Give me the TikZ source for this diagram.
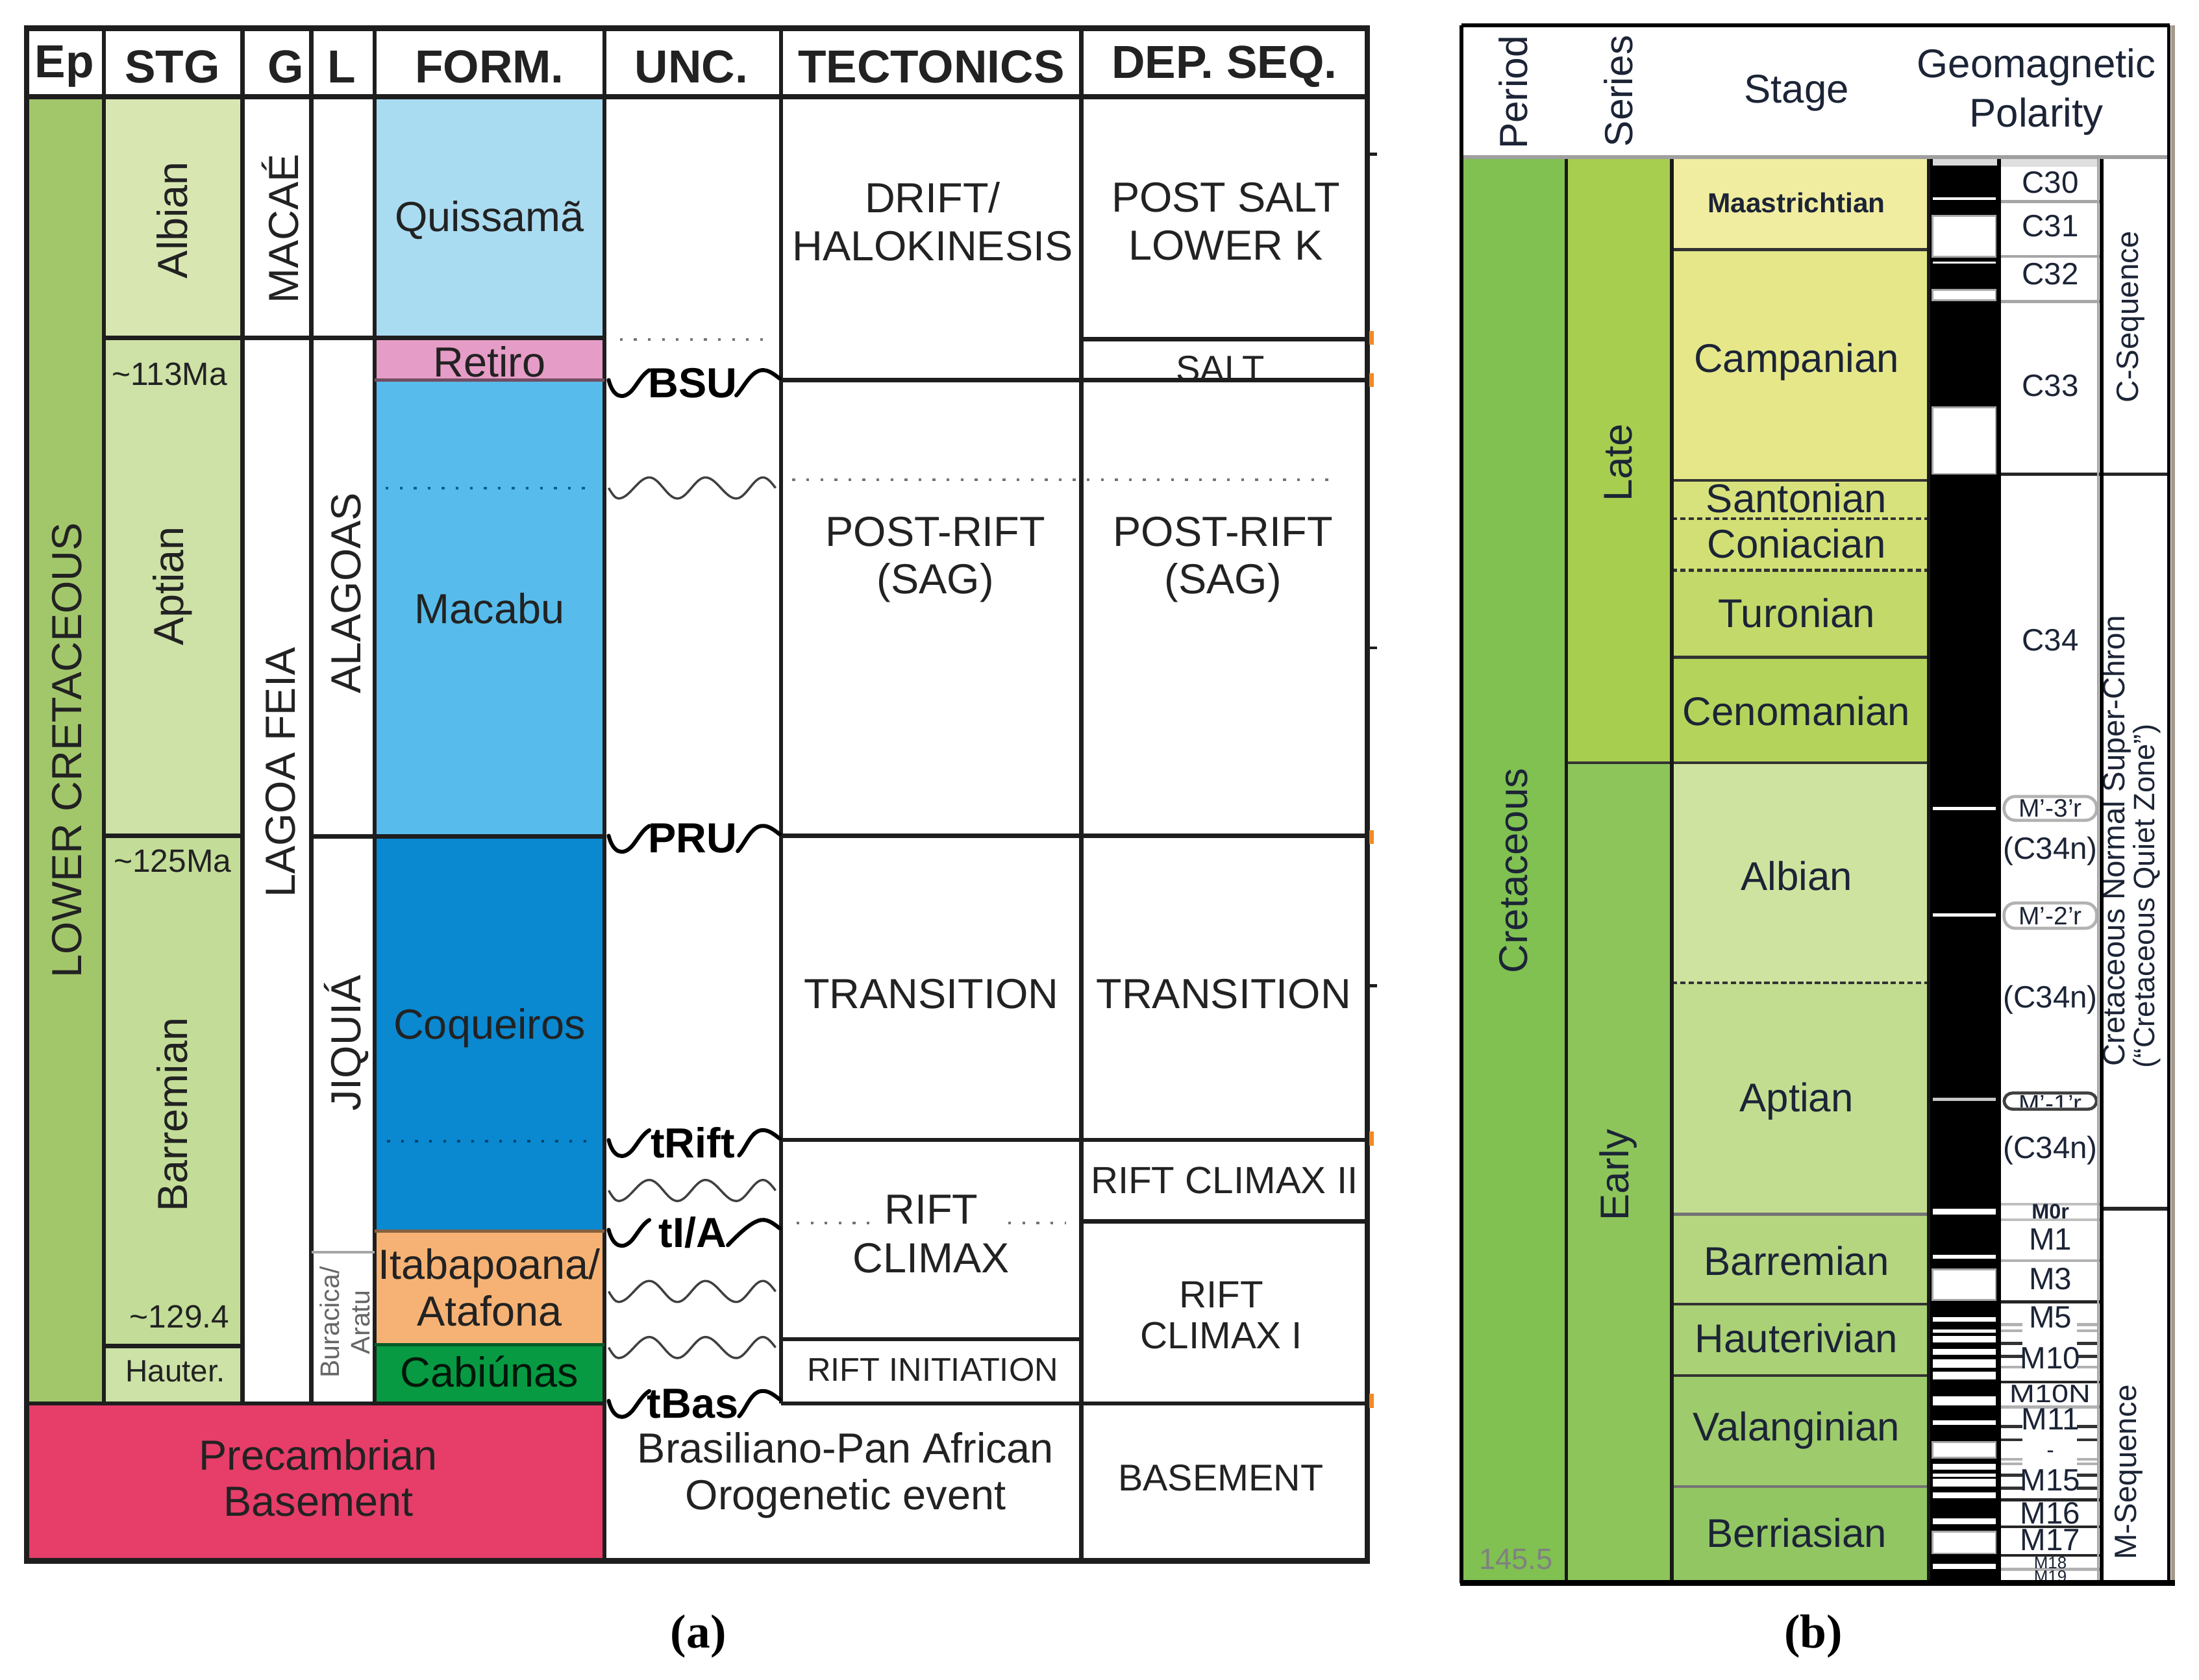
\documentclass[tikz,border=0pt]{standalone}
\usepackage{fontspec}
\setmainfont{Liberation Sans}
\newfontfamily\serifbf{Liberation Serif}
\newcommand\fsz[2]{\fontsize{#1}{#2}\selectfont}
\definecolor{lnA}{HTML}{1E1E1E}
\definecolor{txtA}{HTML}{222222}
\definecolor{txtB}{HTML}{1C2436}
\definecolor{cEp}{HTML}{A2C76B}
\definecolor{cAlb}{HTML}{D8E6B1}
\definecolor{cApt}{HTML}{CEE1A6}
\definecolor{cBar}{HTML}{C3DD98}
\definecolor{cHau}{HTML}{CCE2A6}
\definecolor{cQuis}{HTML}{A9DBF1}
\definecolor{cRet}{HTML}{E59CC6}
\definecolor{cMac}{HTML}{57BCEB}
\definecolor{cCoq}{HTML}{0A88D0}
\definecolor{cIta}{HTML}{F6B274}
\definecolor{cCab}{HTML}{079A42}
\definecolor{cPre}{HTML}{E73D69}
\definecolor{bCret}{HTML}{80C152}
\definecolor{bLate}{HTML}{A7CE4F}
\definecolor{bEarly}{HTML}{8DC55B}
\definecolor{bMaas}{HTML}{F1EDA0}
\definecolor{bCamp}{HTML}{E5E789}
\definecolor{bSant}{HTML}{D8E27C}
\definecolor{bConi}{HTML}{D2DF74}
\definecolor{bTur}{HTML}{C3D96A}
\definecolor{bCen}{HTML}{B4D35B}
\definecolor{bAlb}{HTML}{CFE3A0}
\definecolor{bApt}{HTML}{C2DD90}
\definecolor{bBar}{HTML}{B5D67F}
\definecolor{bHau}{HTML}{AAD175}
\definecolor{bVal}{HTML}{9ECB6B}
\definecolor{bBer}{HTML}{92C663}
\definecolor{bRim}{HTML}{A39A8A}
\definecolor{tickOr}{HTML}{F08A24}
\newcommand\uncmark[4]{%
  \draw[sq] (434,{#2}) .. controls (437,{#2+12}) and (444,{#2+15}) .. (451,{#2+7}) .. controls (455,{#2+2}) and (458,{#2-4}) .. (463,{#2-7});
  \draw[sq] (#4,{#2+11}) .. controls ({#4+5},{#2+6}) and (535,{#2-6}) .. (543,{#2-7}) .. controls (548,{#2-7.5}) and (552,{#2-4}) .. (556,{#2-1});
  \node[ucl] (#1) at (494,{#2+2}) {#3};}
\newcommand\thinwave[1]{%
  \draw[tw] (434,{#1}) sin (441,{#1+7.5}) cos (452,{#1}) sin (463,{#1-7.5}) cos (473,{#1}) sin (483,{#1+7.5}) cos (493,{#1}) sin (503,{#1-7.5}) cos (514,{#1}) sin (525,{#1+7.5}) cos (534.5,{#1}) sin (544,{#1-7.5}) cos (553,{#1});}
\begin{document}
\begin{tikzpicture}[x=0.5pt,y=-0.5pt,
  ln/.style={line width=1.5pt, draw=lnA},
  lnt/.style={line width=1pt, draw=lnA},
  sq/.style={line width=1.4pt, draw=black, line cap=round},
  tw/.style={line width=0.8pt, draw=black!75},
  dots/.style={line width=0.9pt, draw=black!55, dash pattern=on 1pt off 4pt},
  hdr/.style={font=\bfseries\fsz{16.5}{18}, inner sep=0pt, text=txtA},
  bt/.style={font=\fsz{15}{17}, align=center, inner sep=0pt, text=txtA},
  sm/.style={font=\fsz{11.5}{13}, inner sep=0pt, text=txtA},
  ucl/.style={font=\bfseries\fsz{15}{16}, inner sep=0pt, text=black},
  bs/.style={font=\fsz{14.3}{16.5}, align=center, inner sep=0pt, text=txtB},
  ch/.style={font=\fsz{11}{12}, inner sep=0pt, text=txtB},
  chs/.style={font=\fsz{9}{10}, inner sep=0pt, text=txtB},
  stl/.style={line width=1pt, draw=black!80},
  lab/.style={font=\serifbf\bfseries\fsz{17}{19}, inner sep=0pt}]
\useasboundingbox (0,0) rectangle (1568,1198);
\fill[white] (0,0) rectangle (1568,1198);

% ================= PANEL (a) =================
\fill[cEp] (19,69) rectangle (74,1001);
\fill[cAlb] (74,69) rectangle (173,241);
\fill[cApt] (74,241) rectangle (173,596);
\fill[cBar] (74,596) rectangle (173,960);
\fill[cHau] (74,960) rectangle (173,1001);
\fill[cQuis] (267,69) rectangle (431,242);
\fill[cRet] (267,242) rectangle (431,271);
\fill[cMac] (267,271) rectangle (431,596);
\fill[cCoq] (267,596) rectangle (431,878);
\fill[cIta] (267,878) rectangle (431,959);
\fill[cCab] (267,959) rectangle (431,1001);
\fill[cPre] (19,1001) rectangle (431,1113);

\draw[ln] (74,20) -- (74,1001);
\draw[ln] (173,20) -- (173,1001);
\draw[ln] (222,20) -- (222,1001);
\draw[ln] (267,20) -- (267,1001);
\draw[ln] (431,20) -- (431,1113);
\draw[ln] (557,20) -- (557,1001);
\draw[ln] (771,20) -- (771,1113);

\draw[ln] (74,241) -- (431,241);
\draw[ln] (74,596) -- (173,596);
\draw[ln] (222,596.5) -- (431,596.5);
\draw[ln] (74,960) -- (173,960);
\draw[lnt, draw=cCab!60!black] (267,959) -- (431,959);
\draw[line width=1.2pt, draw=cRet!50!black] (267,271) -- (431,271);
\draw[lnt, draw=cIta!55!black] (267,878) -- (431,878);
\draw[line width=1pt, draw=black!35] (222,893) -- (267,893);
\draw[ln] (19,1001) -- (431,1001);
\draw[ln] (557,271) -- (975,271);
\draw[ln] (771,242) -- (975,242);
\draw[ln] (557,596) -- (975,596);
\draw[ln] (557,813) -- (975,813);
\draw[ln] (557,955) -- (771,955);
\draw[ln] (771,871) -- (975,871);
\draw[ln] (557,1001) -- (975,1001);

\draw[line width=2pt, draw=lnA] (19,20) rectangle (975,1113);
\draw[line width=2pt, draw=lnA] (19,69) -- (975,69);

\draw[dots, draw=cCoq!70!black] (275,348) -- (420,348);
\draw[dots, draw=cCoq!50!black] (276,814) -- (419,814);
\draw[dots] (442,242) -- (546,242);
\draw[dots] (565,342) -- (952,342);
\draw[dots] (568,872) -- (623,872);
\draw[dots] (719,872) -- (760,872);

\thinwave{348}
\thinwave{849}
\thinwave{921}
\thinwave{961}
\uncmark{uBSU}{271}{BSU}{525}
\uncmark{uPRU}{596}{PRU}{526}
\uncmark{uRift}{813}{tRift}{527}
\uncmark{uIA}{877}{tI/A}{519}
\uncmark{uBas}{999}{tBas}{527}

\foreach \yy in {110,462,703} \draw[line width=1pt, draw=lnA] (976,\yy) -- (982,\yy);
\foreach \yy in {241,271,597,812,999} \fill[tickOr] (976.5,{\yy-5}) rectangle (979.5,{\yy+5});

\node[hdr] (hEp) at (46,47.5) {Ep};
\node[hdr] (hSTG) at (123,47.5) {STG};
\node[hdr] (hG) at (204,47.5) {G};
\node[hdr] (hL) at (243.5,47.5) {L};
\node[hdr] (hFORM) at (349,47.5) {FORM.};
\node[hdr] (hUNC) at (493,47.5) {UNC.};
\node[hdr] (hTEC) at (664,47.5) {TECTONICS};
\node[hdr] (hDEP) at (873,47.5) {DEP. SEQ.};

\node[bt, rotate=90] (tLC) at (48,535) {LOWER CRETACEOUS};
\node[bt, rotate=90] (tAlb) at (123,157) {Albian};
\node[bt, rotate=90] (tApt) at (123,418) {Aptian};
\node[bt, rotate=90] (tBar) at (123,795) {Barremian};
\node[sm] (t113) at (121,267) {\textasciitilde113Ma};
\node[sm] (t125) at (123,614) {\textasciitilde125Ma};
\node[sm] (t129) at (128,939) {\textasciitilde129.4};
\node[sm, font=\fsz{11}{12}] (tHau) at (125,978) {Hauter.};

\node[bt, rotate=90] (tMac) at (200,163) {MACAÉ};
\node[bt, rotate=90] (tLF) at (200,551) {LAGOA FEIA};
\node[bt, rotate=90] (tAla) at (247,423) {ALAGOAS};
\node[bt, rotate=90] (tJiq) at (247,744) {JIQUIÁ};
\node[bt, rotate=90, font=\fsz{9.5}{11}, text=black!60] (tBur) at (246,943) {Buracica/\\Aratu};

\node[bt] (fQ) at (349,157) {Quissamã};
\node[bt] (fR) at (349,258) {Retiro};
\node[bt] (fM) at (349,434) {Macabu};
\node[bt] (fC) at (349,733) {Coqueiros};
\node[bt, font=\fsz{15}{16.7}] (fI) at (349,918) {Itabapoana/\\Atafona};
\node[bt, text=black!85!cCab] (fCab) at (349,978) {Cabiúnas};
\node[bt, font=\fsz{15}{16.5}] (fP) at (227,1054) {Precambrian\\Basement};

\node[bt] (kD) at (665,158) {DRIFT/\\HALOKINESIS};
\node[bt] (kP) at (667,399) {POST-RIFT\\(SAG)};
\node[bt] (kT) at (664,709) {TRANSITION};
\node[bt, font=\fsz{15}{17.5}] (kR) at (664,880) {RIFT\\CLIMAX};
\node[bt, font=\fsz{11.7}{13}] (kI) at (665,977) {RIFT INITIATION};
\node[bt, font=\fsz{15}{16.7}] (kB) at (603,1052) {Brasiliano-Pan African\\Orogenetic event};

\node[bt] (dPS) at (874,158) {POST SALT\\LOWER K};
\begin{scope}
\clip (772,243) rectangle (974,270);
\node[bt, font=\fsz{13}{14}] (dS) at (870,263) {SALT};
\end{scope}
\node[bt] (dPR) at (872,399) {POST-RIFT\\(SAG)};
\node[bt] (dT) at (872.5,709) {TRANSITION};
\node[bt, font=\fsz{13.5}{15}] (dR2) at (873,842) {RIFT CLIMAX II};
\node[bt, font=\fsz{13.5}{14.5}] (dR1) at (871,938) {RIFT\\CLIMAX I};
\node[bt, font=\fsz{13.3}{15}] (dB) at (870.5,1054) {BASEMENT};

\node[lab] (labA) at (498,1167) {(a)};

% ================= PANEL (b) =================
\fill[bCret] (1042,112) rectangle (1117,1128);
\fill[bLate] (1117,112) rectangle (1192,544);
\fill[bEarly] (1117,544) rectangle (1192,1128);
\fill[bMaas] (1192,112) rectangle (1375,178);
\fill[bCamp] (1192,178) rectangle (1375,342.5);
\fill[bSant] (1192,342.5) rectangle (1375,370);
\fill[bConi] (1192,370) rectangle (1375,406.7);
\fill[bTur] (1192,406.7) rectangle (1375,468.7);
\fill[bCen] (1192,468.7) rectangle (1375,544);
\fill[bAlb] (1192,544) rectangle (1375,701);
\fill[bApt] (1192,701) rectangle (1375,866);
\fill[bBar] (1192,866) rectangle (1375,930);
\fill[bHau] (1192,930) rectangle (1375,981);
\fill[bVal] (1192,981) rectangle (1375,1060);
\fill[bBer] (1192,1060) rectangle (1375,1128);

\fill[black] (1375,112) rectangle (1427,1128);
\fill[gray!30] (1378,112.7) rectangle (1424,117.9);
\foreach \a/\b in {140.6/142.6,186.5/188,575.3/577.7,651.5/653.5,862/866,895/897.5,939.4/942.5,948.3/950.3,952.8/957.4,962/966,969.4/975.6,978/983.8,996/1002.4,1012.8/1016.3,1043.8/1048,1051/1053,1054.5/1060.3,1064.4/1068.6,1083/1087,1115/1119}
  \fill[white] (1378,\a) rectangle (1423,\b);
\fill[gray!45] (1378,783) rectangle (1423,785);
\foreach \a/\b in {154/183,206.8/214,290.5/338,905.3/927,1028.3/1039.6,1092.4/1107.8}
  \filldraw[fill=white, draw=gray!70, line width=0.6pt] (1378,\a) rectangle (1423,\b);

\fill[gray!25] (1427,112.7) rectangle (1496,119);
\foreach \yy/\cc in {143.7/gray!70,183/gray!70,215/gray!70,858.8/gray!50,870/gray!50,899/gray!60,928.4/black!85,985.5/black!85,1003.5/gray!60,1069.6/black!85,1088.8/black!85,1109.3/black!85,1119.2/gray!60}
  \draw[line width=1pt, draw=\cc] (1427,\yy) -- (1497,\yy);
\foreach \yy/\cc in {944.6/gray!60,949/gray!60,958/black!80,967.3/black!80,975/gray!60,1017.3/black!80,1026.8/black!80,1040.7/gray!60,1044/gray!60,1052/black!80,1061.3/black!80}
  {\draw[line width=1pt, draw=\cc] (1427,\yy) -- (1442,\yy);
   \draw[line width=1pt, draw=\cc] (1481,\yy) -- (1496,\yy);}
\draw[rounded corners=4pt, line width=1.1pt, draw=gray!60] (1429,568) rectangle (1495,585);
\draw[rounded corners=4pt, line width=1.1pt, draw=gray!60] (1429,644) rectangle (1495,662);
\draw[rounded corners=3pt, line width=1.1pt, draw=black!75] (1429,779.5) rectangle (1495,791);

\node[ch] (c30) at (1462,130) {C30};
\node[ch] (c31) at (1462,161) {C31};
\node[ch] (c32) at (1462,195.5) {C32};
\node[ch] (c33) at (1462,275) {C33};
\node[ch] (c34) at (1462,456.5) {C34};
\node[chs] (m3r) at (1462,576.5) {M'-3'r};
\node[ch] (c34a) at (1462,607) {(C34n)};
\node[chs] (m2r) at (1462,653) {M'-2'r};
\node[ch] (c34b) at (1462,713) {(C34n)};
\begin{scope}
\clip (1430,781) rectangle (1494,789.5);
\node[chs] (m1r) at (1462,787) {M'-1'r};
\end{scope}
\node[ch] (c34c) at (1462,820.5) {(C34n)};
\node[chs, font=\bfseries\fsz{7.5}{8}] (m0r) at (1462,864) {M0r};
\node[ch] (mm1) at (1462,884) {M1};
\node[ch] (mm3) at (1462,912) {M3};
\node[ch] (mm5) at (1462,939.5) {M5};
\node[ch] (mm10) at (1462,968.5) {M10};
\node[ch, font=\fsz{9}{10}, xscale=1.2] (mm10n) at (1462,994) {M10N};
\node[ch] (mm11) at (1462,1012) {M11};
\node[ch, font=\fsz{8}{9}] (mdash) at (1462,1037) {-};
\node[ch] (mm15) at (1462,1055.5) {M15};
\node[ch] (mm16) at (1462,1079) {M16};
\node[ch] (mm17) at (1462,1098) {M17};
\begin{scope}
\clip (1428,1110) rectangle (1496,1127);
\node[chs, font=\fsz{6}{7}] (mm18) at (1462,1114.5) {M18};
\node[chs, font=\fsz{6}{7}] (mm19) at (1462,1124.5) {M19};
\end{scope}

\draw[line width=1.2pt, draw=black!85] (1427,338) -- (1547,338);
\draw[line width=1.2pt, draw=black!85] (1498,862) -- (1547,862);
\node[ch, rotate=90] (sC) at (1519.5,226) {C-Sequence};
\node[ch, rotate=90, anchor=west] (sN1) at (1509.5,761) {Cretaceous Normal Super-Chron};
\node[ch, rotate=90, anchor=west, font=\fsz{10.5}{12}] (sN2) at (1531,762) {(“Cretaceous Quiet Zone”)};
\node[ch, rotate=90] (sM) at (1518,1050) {M-Sequence};

\draw[stl] (1192,178) -- (1375,178);
\draw[stl] (1192,342.5) -- (1375,342.5);
\draw[stl, dash pattern=on 2pt off 1pt] (1192,370) -- (1375,370);
\draw[stl, dash pattern=on 2pt off 1pt] (1192,406.7) -- (1375,406.7);
\draw[stl] (1192,468.7) -- (1375,468.7);
\draw[stl] (1117,544) -- (1375,544);
\draw[stl, dash pattern=on 2pt off 1pt] (1192,701) -- (1375,701);
\draw[stl, draw=black!55] (1192,866) -- (1375,866);
\draw[stl] (1192,930) -- (1375,930);
\draw[stl] (1192,981) -- (1375,981);
\draw[stl, draw=black!55] (1192,1060) -- (1375,1060);

\draw[line width=1.2pt, draw=black!90] (1117,112) -- (1117,1129);
\draw[line width=1.5pt, draw=black!90] (1192,112) -- (1192,1129);
\draw[line width=1.2pt, draw=black!90] (1375,112) -- (1375,1129);
\draw[line width=0.8pt, draw=gray!70] (1496,112) -- (1496,1129);
\draw[line width=1.4pt, draw=black] (1498.5,112) -- (1498.5,1129);
\draw[line width=1.2pt, draw=gray!75] (1042,112) -- (1547,112);
\draw[line width=1.3pt, draw=black] (1042,18) -- (1547,18);
\draw[line width=1.3pt, draw=black] (1042,18) -- (1042,1129);
\draw[line width=1.3pt, draw=black] (1546.5,18) -- (1546.5,1129);
\draw[line width=1.5pt, draw=bRim] (1549.5,18) -- (1549.5,1130);
\draw[line width=2pt, draw=black] (1041,1129) -- (1551,1129);

\node[bs, rotate=90, font=\fsz{14}{16}] (bP) at (1079,66) {Period};
\node[bs, rotate=90, font=\fsz{14}{16}] (bSe) at (1154,65) {Series};
\node[bs] (bSt) at (1281,66.5) {Stage};
\node[bs, font=\fsz{14.3}{17.5}] (bGP) at (1452,65.5) {Geomagnetic\\Polarity};

\node[bs, rotate=90] (bCr) at (1079,621) {Cretaceous};
\node[bs, rotate=90] (bLt) at (1154,330) {Late};
\node[bs, rotate=90] (bEa) at (1154,838) {Early};
\node[bs, font=\fsz{10.5}{12}, text=black!50] (b145) at (1081,1112) {145.5};

\node[bs, font=\bfseries\fsz{9.8}{11}] (sMaas) at (1281,144.6) {Maastrichtian};
\node[bs] (sCamp) at (1281,258) {Campanian};
\node[bs] (sSant) at (1281,355.5) {Santonian};
\node[bs] (sConi) at (1281,387.5) {Coniacian};
\node[bs] (sTur) at (1281,437) {Turonian};
\node[bs] (sCen) at (1281,507) {Cenomanian};
\node[bs] (sAlb) at (1281,624.5) {Albian};
\node[bs] (sApt) at (1281,785.5) {Aptian};
\node[bs] (sBar) at (1281,899) {Barremian};
\node[bs] (sHau) at (1281,954.5) {Hauterivian};
\node[bs] (sVal) at (1281,1020) {Valanginian};
\node[bs] (sBer) at (1281,1093) {Berriasian};

\node[lab] (labB) at (1293,1167) {(b)};
\end{tikzpicture}
\end{document}
